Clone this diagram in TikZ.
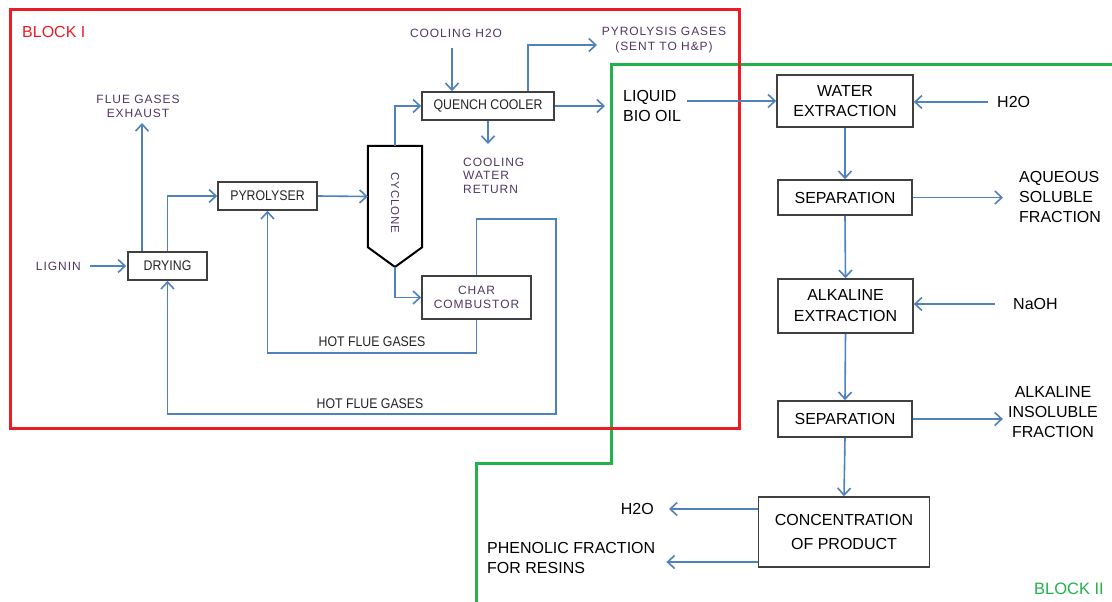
\documentclass[tikz,border=0pt]{standalone}
\usepackage{fontspec}
\setmainfont{Liberation Sans}
\newfontfamily\nrwfont[FakeStretch=0.88]{Liberation Sans}
\newfontfamily\widfont[LetterSpace=8]{Liberation Sans}
\usetikzlibrary{arrows.meta}
\definecolor{flowblue}{RGB}{79,129,189}
\definecolor{blockred}{RGB}{237,28,36}
\definecolor{blockgreen}{RGB}{34,177,76}
\definecolor{boxgray}{RGB}{64,64,64}
\definecolor{lblpurple}{RGB}{80,55,100}
\definecolor{txtgray}{RGB}{35,35,40}
\begin{document}
\begin{tikzpicture}[x=1pt,y=-1pt,
 arr/.style={draw=flowblue, line width=1.6pt, -{Straight Barb[length=7pt,width=13pt]}},
 boxa/.style={draw=boxgray, line width=1.6pt, inner sep=0pt, align=center, text=txtgray, font=\nrwfont\fontsize{14}{16}\selectfont},
 boxc/.style={draw=boxgray, line width=1.6pt, inner sep=0pt, align=center, text=lblpurple, font=\widfont\fontsize{12}{14}\selectfont},
 boxb/.style={draw=boxgray, line width=1.6pt, inner sep=0pt, align=center, text=black, font=\fontsize{16}{20}\selectfont},
 lbla/.style={inner sep=0pt, text=lblpurple, font=\widfont\fontsize{12}{14}\selectfont},
 lblb/.style={inner sep=0pt, text=black, font=\fontsize{16}{20}\selectfont},
 hotlbl/.style={inner sep=0pt, text=txtgray, font=\nrwfont\fontsize{14}{16}\selectfont},
]
\useasboundingbox[fill=white] (0,0) rectangle (1112,602);

% ---------- block frames ----------
\draw[blockgreen, line width=3pt] (1112,65) -- (611,65) -- (611,463) -- (476,463) -- (476,602);
\draw[blockred, line width=3pt] (10,10) rectangle (739,428);
\node[anchor=west, inner sep=0pt, text=blockred, font=\fontsize{16}{18}\selectfont] (blk1) at (22,32) {BLOCK I};
\node[anchor=east, inner sep=0pt, text=blockgreen, font=\fontsize{16.5}{18}\selectfont] (blk2) at (1104,589) {BLOCK II};

% ---------- block I ----------
\node[boxa, minimum width=79pt, minimum height=28pt] (drying) at (167.5,266) {DRYING};
\node[boxa, minimum width=99pt, minimum height=28pt] (pyro) at (267.5,196) {PYROLYSER};
\node[boxa, minimum width=132pt, minimum height=28pt] (quench) at (488,106) {QUENCH COOLER};
\node[boxc, minimum width=109pt, minimum height=43pt] (char) at (476.5,297.5) {CHAR\\COMBUSTOR};

\node[minimum width=54pt, minimum height=101pt, inner sep=0pt] (cyc) at (395,196.5) {};
\coordinate (cyctip) at (395,267);
\draw[black, line width=2pt, line join=miter] (cyc.north west) -- (cyc.north east) -- (cyc.south east) -- (cyctip) -- (cyc.south west) -- cycle;
\node[lbla, rotate=-90, font=\widfont\fontsize{11.5}{13}\selectfont] (cyctext) at (395,203) {CYCLONE};

\node[lbla, anchor=east] (lignin) at (81,266) {LIGNIN};
\node[lbla, align=center] (flue) at (138,106) {FLUE GASES\\EXHAUST};
\node[lbla] (coolh2o) at (456,33) {COOLING H2O};
\node[lbla, align=center, font=\widfont\fontsize{12}{15}\selectfont] (pgas) at (664,40.5) {PYROLYSIS GASES\\(SENT TO H\&P)};
\node[lbla, anchor=west, align=left, font=\widfont\fontsize{12}{13.5}\selectfont] (cwr) at (463,175.5) {COOLING\\WATER\\RETURN};
\node[hotlbl] (hot1) at (372,342) {HOT FLUE GASES};
\node[hotlbl] (hot2) at (370,404) {HOT FLUE GASES};

\coordinate (fgend) at (142,123);
\coordinate (coolin) at (452,48);
\coordinate (pgend) at (597,45);
\coordinate (qout) at (605,106);
\coordinate (cwrend) at (488,144);
\coordinate (c1) at (556,219);
\coordinate (c2) at (370,414);
\coordinate (c3) at (370,353);

\draw[arr, shorten <=9pt, shorten >=1pt] (lignin.east) -- (drying.west);
\draw[arr] ([xshift=-25.5pt]drying.north) -- (fgend);
\draw[arr] (drying.north) |- (pyro.west);
\draw[arr] (pyro.east) -- (cyc.west);
\draw[arr] (cyc.north) |- (quench.west);
\draw[arr] (cyctip) |- (char.west);
\draw[arr] (coolin) -- (coolin |- quench.north);
\draw[arr] ([xshift=40pt]quench.north) |- (pgend);
\draw[arr] (quench.east) -- (qout);
\draw[arr] (quench.south) -- (cwrend);
\draw[arr] (char.south) |- (c3) -| (pyro.south);
\draw[arr] (char.north) |- (c1) |- (c2) -| (drying.south);

% ---------- block II ----------
\node[boxb, minimum width=136pt, minimum height=52pt] (wext) at (845,101) {WATER\\EXTRACTION};
\node[boxb, minimum width=134pt, minimum height=35pt] (sep1) at (845,197.5) {SEPARATION};
\node[boxb, minimum width=135pt, minimum height=54pt, font=\fontsize{16}{21}\selectfont] (alk) at (845.5,306) {ALKALINE\\EXTRACTION};
\node[boxb, minimum width=134pt, minimum height=36pt] (sep2) at (845,419) {SEPARATION};
\node[boxb, minimum width=171pt, minimum height=70pt, font=\fontsize{16}{24}\selectfont] (conc) at (844,532) {CONCENTRATION\\OF PRODUCT};

\node[lblb, anchor=west, align=left] (lbo) at (623,106) {LIQUID\\BIO OIL};
\node[lblb, anchor=west] (h2oa) at (997,102) {H2O};
\node[lblb, anchor=west, align=left] (aq) at (1019,197) {AQUEOUS\\SOLUBLE\\FRACTION};
\node[lblb, anchor=west] (naoh) at (1013,304) {NaOH};
\node[lblb, align=center] (ai) at (1053,412) {ALKALINE\\INSOLUBLE\\FRACTION};
\node[lblb, anchor=east] (h2ob) at (654,509) {H2O};
\node[lblb, anchor=west, align=left] (phen) at (487,558) {PHENOLIC FRACTION\\FOR RESINS};

\draw[arr, shorten <=6pt] (lbo.east |- wext.west) -- (wext.west);
\draw[arr, shorten <=9pt] (h2oa.west) -- (h2oa.west -| wext.east);
\draw[arr] (wext.south) -- (sep1.north);
\draw[arr, shorten >=16pt] (sep1.east) -- (sep1.east -| aq.west);
\draw[arr] (sep1.south) -- (alk.north);
\draw[arr, shorten <=18pt] (naoh.west) -- (naoh.west -| alk.east);
\draw[arr] (alk.south) -- (sep2.north);
\draw[arr, shorten >=5pt] (sep2.east) -- (sep2.east -| ai.west);
\draw[arr] (sep2.south) -- (conc.north);
\draw[arr, shorten >=15pt] ([yshift=23pt]conc.west) -- ([yshift=23pt]conc.west -| h2ob.east);
\draw[arr, shorten >=11pt] ([yshift=-30pt]conc.west) -- ([yshift=-30pt]conc.west -| phen.east);
\end{tikzpicture}
\end{document}
